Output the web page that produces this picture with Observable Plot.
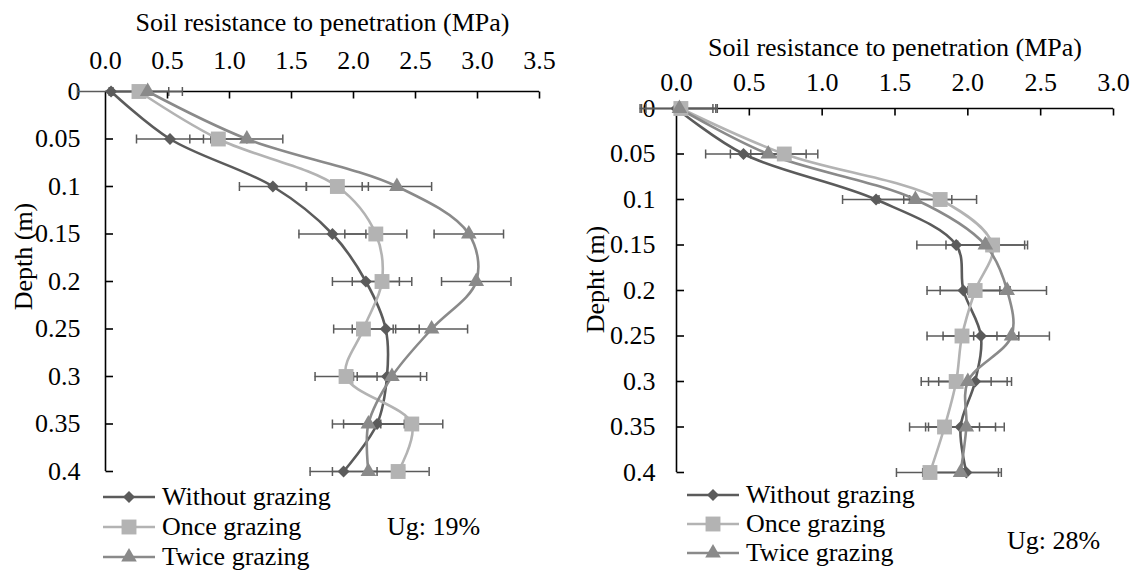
<!DOCTYPE html>
<html><head><meta charset="utf-8">
<script src="https://cdn.jsdelivr.net/npm/d3@7"></script>
<script src="https://cdn.jsdelivr.net/npm/@observablehq/plot@0.6"></script>
<style>
html,body{margin:0;padding:0;background:#fff;font-family:'Liberation Serif';}
#wrap{position:relative;width:1135px;height:576px;overflow:hidden;font-family:'Liberation Serif';color:#000;}
.panel{position:absolute;top:0;}
.legrow{position:absolute;height:30px;line-height:30px;font-size:26px;font-family:'Liberation Serif';white-space:nowrap;display:flex;align-items:center;}
.legrow svg{display:block;margin-right:7px;}
.note{position:absolute;height:30px;line-height:30px;font-size:26px;font-family:'Liberation Serif';white-space:nowrap;}
</style></head>
<body><div id="wrap"></div>
<script>
// ---- data ----
const depths = [0, 0.05, 0.1, 0.15, 0.2, 0.25, 0.3, 0.35, 0.4];
const depthTickLabels = ["0", "0.05", "0.1", "0.15", "0.2", "0.25", "0.3", "0.35", "0.4"];
const seriesNames = ["Without grazing", "Once grazing", "Twice grazing"];
const seriesColors = ["#5b5b5b", "#b3b3b3", "#8a8a8a"];
const seriesSymbols = ["diamond2", "square", "triangle"];
const seriesRadius = [5.4, 8.4, 5.8];

// Left panel, Ug: 19%
const leftXTicks = [0, 0.5, 1.0, 1.5, 2.0, 2.5, 3.0, 3.5];
const leftWithout = [0.045, 0.52, 1.35, 1.83, 2.10, 2.26, 2.27, 2.19, 1.92];
const leftOnce    = [0.27, 0.91, 1.87, 2.18, 2.23, 2.08, 1.94, 2.47, 2.36];
const leftTwice   = [0.34, 1.14, 2.35, 2.93, 2.99, 2.63, 2.31, 2.12, 2.12];
const leftWithoutErr = [0.27, 0.27, 0.27, 0.27, 0.27, 0.27, 0.27, 0.27, 0.27];
const leftOnceErr    = [0.24, 0.23, 0.25, 0.25, 0.24, 0.24, 0.25, 0.25, 0.25];
const leftTwiceErr   = [0.28, 0.29, 0.28, 0.28, 0.28, 0.29, 0.28, 0.29, 0.29];

// Right panel, Ug: 28%
const rightXTicks = [0, 0.5, 1.0, 1.5, 2.0, 2.5, 3.0];
const rightWithout = [0.0, 0.46, 1.37, 1.92, 1.97, 2.09, 2.05, 1.95, 1.99];
const rightOnce    = [0.03, 0.74, 1.81, 2.17, 2.05, 1.96, 1.92, 1.84, 1.74];
const rightTwice   = [0.02, 0.63, 1.64, 2.12, 2.27, 2.30, 2.00, 1.99, 1.95];
const rightWithoutErr = [0.25, 0.26, 0.23, 0.27, 0.25, 0.26, 0.25, 0.24, 0.24];
const rightOnceErr    = [0.24, 0.23, 0.25, 0.24, 0.24, 0.24, 0.24, 0.24, 0.23];
const rightTwiceErr   = [0.26, 0.26, 0.25, 0.27, 0.27, 0.26, 0.27, 0.26, 0.26];

const xTitle = "Soil resistance to penetration (MPa)";
const FONT = "Liberation Serif";

function buildRows(values, errs) {
  return values.map((vals, s) => depths.map((d, i) => ({
    series: seriesNames[s], si: s, depth: d, value: vals[i], err: errs[s][i]
  })));
}

const tickDown = {draw(ctx) { ctx.moveTo(0, 0); ctx.lineTo(0, 7); }};
const tickRight = {draw(ctx) { ctx.moveTo(0, 0); ctx.lineTo(7.5, 0); }};
const capSym = {draw(ctx) { ctx.moveTo(0, -4.5); ctx.lineTo(0, 4.5); }};

function panel(o) {
  const groups = buildRows(o.values, o.errs);
  const all = groups.flat();
  const errColor = "#5b5b5b";
  const marks = [
    Plot.axisX(o.xTicks, {anchor: "top", tickSize: 0, tickPadding: o.xPad, tickFormat: d3.format(".1f"), fontSize: 26, fontFamily: FONT, label: null}),
    Plot.axisY(depths, {anchor: "left", tickSize: 0, tickPadding: o.yPad, tickFormat: d => depthTickLabels[depths.indexOf(d)], fontSize: 26, fontFamily: FONT, label: null}),
    Plot.ruleY([0], {stroke: "#000", strokeWidth: 1.6}),
    Plot.ruleX([0], {stroke: "#000", strokeWidth: 1.6}),
    Plot.dot(o.xTicks.slice(1), {x: d => d, y: () => 0, symbol: tickDown, stroke: "#000", strokeWidth: 1.6, fill: "none"}),
    Plot.dot(depths.slice(1), {x: () => 0, y: d => d, symbol: tickRight, stroke: "#000", strokeWidth: 1.6, fill: "none"}),
    Plot.ruleY(all, {y: "depth", x1: d => d.value - d.err, x2: d => d.value + d.err, stroke: errColor, strokeWidth: 1.5}),
    Plot.dot(all, {x: d => d.value - d.err, y: "depth", symbol: capSym, stroke: errColor, strokeWidth: 1.5, fill: "none"}),
    Plot.dot(all, {x: d => d.value + d.err, y: "depth", symbol: capSym, stroke: errColor, strokeWidth: 1.5, fill: "none"})
  ];
  groups.forEach((rows, s) => {
    marks.push(Plot.line(rows, {x: "value", y: "depth", stroke: seriesColors[s], strokeWidth: 2.6, curve: "catmull-rom"}));
  });
  groups.forEach((rows, s) => {
    marks.push(Plot.dot(rows, {x: "value", y: "depth", symbol: seriesSymbols[s], r: seriesRadius[s], fill: seriesColors[s], stroke: "none"}));
  });
  marks.push(Plot.text([xTitle], {frameAnchor: "top", dy: o.titleDy, text: d => d, fontSize: 26, fontFamily: FONT, lineAnchor: "middle", textAnchor: "middle"}));
  marks.push(Plot.text([o.yTitle], {frameAnchor: "left", dx: o.yTitleDx, dy: o.yTitleDy, text: d => d, rotate: -90, fontSize: 26, fontFamily: FONT, lineAnchor: "middle", textAnchor: "middle"}));
  const svg = Plot.plot({
    width: o.width, height: o.height,
    marginLeft: o.ml, marginRight: o.mr, marginTop: o.mt, marginBottom: o.mb,
    style: {fontSize: "26px", background: "white", overflow: "visible", color: "#000"},
    x: {domain: [0, o.xMax]},
    y: {domain: [0, 0.4], reverse: true},
    marks
  });
  svg.setAttribute("font-family", FONT);
  svg.style.fontFamily = "'Liberation Serif'";
  return svg;
}

const wrap = document.getElementById("wrap");

function addPanel(o) {
  const div = document.createElement("div");
  div.className = "panel";
  div.style.left = o.left + "px";
  div.appendChild(panel(o));
  wrap.appendChild(div);
}

addPanel({left: 0, width: 560, height: 480, ml: 105, mr: 21, mt: 91, mb: 9,
  xTicks: leftXTicks, xMax: 3.5, xPad: 23, yPad: 25, titleDy: -69,
  yTitle: "Depth (m)", yTitleDx: -82, yTitleDy: -25,
  values: [leftWithout, leftOnce, leftTwice], errs: [leftWithoutErr, leftOnceErr, leftTwiceErr]});

addPanel({left: 560, width: 575, height: 480, ml: 116, mr: 22, mt: 108, mb: 8,
  xTicks: rightXTicks, xMax: 3.0, xPad: 18, yPad: 21, titleDy: -61,
  yTitle: "Depht (m)", yTitleDx: -81, yTitleDy: -11,
  values: [rightWithout, rightOnce, rightTwice], errs: [rightWithoutErr, rightOnceErr, rightTwiceErr]});

// ---- legends (below the charts) ----
function swatch(s) {
  const w = 52, h = 30;
  const svg = d3.create("svg").attr("width", w).attr("height", h);
  svg.append("line").attr("x1", 0).attr("x2", w).attr("y1", h / 2).attr("y2", h / 2)
    .attr("stroke", seriesColors[s]).attr("stroke-width", 2.6);
  const type = {diamond2: d3.symbolDiamond2, square: d3.symbolSquare, triangle: d3.symbolTriangle}[seriesSymbols[s]];
  const r = seriesRadius[s];
  svg.append("path").attr("transform", `translate(${w / 2},${h / 2})`)
    .attr("d", d3.symbol(type, Math.PI * r * r)()).attr("fill", seriesColors[s]);
  return svg.node();
}
function addLegend(left, centers, note, noteLeft, noteCenter) {
  seriesNames.forEach((name, s) => {
    const row = document.createElement("div");
    row.className = "legrow";
    row.style.left = left + "px";
    row.style.top = (centers[s] - 15) + "px";
    row.appendChild(swatch(s));
    const t = document.createElement("span");
    t.textContent = name;
    row.appendChild(t);
    wrap.appendChild(row);
  });
  const n = document.createElement("div");
  n.className = "note";
  n.style.left = noteLeft + "px";
  n.style.top = (noteCenter - 15) + "px";
  n.textContent = note;
  wrap.appendChild(n);
}
addLegend(103, [497, 527, 557], "Ug: 19%", 387, 527);
addLegend(687, [495, 524, 553], "Ug: 28%", 1007, 541);
</script>
</body></html>
